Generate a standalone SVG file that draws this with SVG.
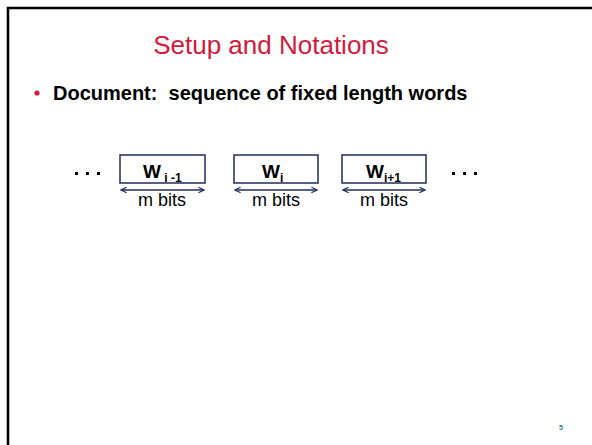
<svg xmlns="http://www.w3.org/2000/svg" width="592" height="445" viewBox="0 0 592 445">
<defs>
<style>
.box{fill:#fff;stroke:#1f2d5e;stroke-width:1.5}
.w{font-family:"Liberation Sans",Arial,sans-serif;font-weight:bold;font-size:19px;fill:#000}
.sub{font-size:12px}
.lbl{font-family:"Liberation Sans",Arial,sans-serif;font-size:18px;fill:#000;text-anchor:middle}
.arr{stroke:#1f2d5e;stroke-width:1.5;fill:none;marker-start:url(#ah);marker-end:url(#ah)}
.dot{fill:#000}
</style>
<marker id="ah" viewBox="0 0 10 10" refX="9" refY="5" markerWidth="7" markerHeight="7" markerUnits="userSpaceOnUse" orient="auto-start-reverse">
<path d="M1,1 L9,5 L1,9" fill="none" stroke="#1f2d5e" stroke-width="1.6"/>
</marker>
</defs>
<rect width="592" height="445" fill="#fff"/>
<path d="M8,445 V8 H592" fill="none" stroke="#000" stroke-width="2.5"/>
<text x="271" y="54" font-family="'Liberation Sans',Arial,sans-serif" font-size="26" fill="#d11a3c" text-anchor="middle">Setup and Notations</text>
<circle cx="37" cy="93" r="2.6" fill="#d11a3c"/>
<text x="53" y="100" font-family="'Liberation Sans',Arial,sans-serif" font-size="20" font-weight="bold" fill="#000" xml:space="preserve">Document:  sequence of fixed length words</text>
<g id="dots-left">
<rect class="dot" x="75" y="172" width="3" height="3"/>
<rect class="dot" x="86" y="172" width="3" height="3"/>
<rect class="dot" x="97" y="172" width="3" height="3"/>
</g>
<g id="word1">
<rect class="box" x="120" y="155" width="85" height="28"/>
<text class="w" x="143" y="178">W<tspan class="sub" dy="4" xml:space="preserve"> i -1</tspan></text>
<text class="lbl" x="162" y="206">m bits</text>
</g>
<g id="word2">
<rect class="box" x="234" y="155" width="84" height="28"/>
<text class="w" x="262" y="178">W<tspan class="sub" dy="4">i</tspan></text>
<text class="lbl" x="276" y="206">m bits</text>
</g>
<g id="word3">
<rect class="box" x="342" y="155" width="84" height="28"/>
<text class="w" x="366" y="178">W<tspan class="sub" dy="4">i+1</tspan></text>
<text class="lbl" x="384" y="206">m bits</text>
</g>
<g id="dots-right">
<rect class="dot" x="452" y="172" width="3" height="3"/>
<rect class="dot" x="463" y="172" width="3" height="3"/>
<rect class="dot" x="474" y="172" width="3" height="3"/>
</g>
<g id="connectors">
<line class="arr" x1="121" y1="190" x2="204" y2="190"/>
<line class="arr" x1="235" y1="190" x2="317" y2="190"/>
<line class="arr" x1="343" y1="190" x2="425" y2="190"/>
</g>
<text x="561" y="430" font-family="'Liberation Sans',Arial,sans-serif" font-size="7" font-weight="bold" fill="#2a8a8a" text-anchor="middle">5</text>
</svg>
